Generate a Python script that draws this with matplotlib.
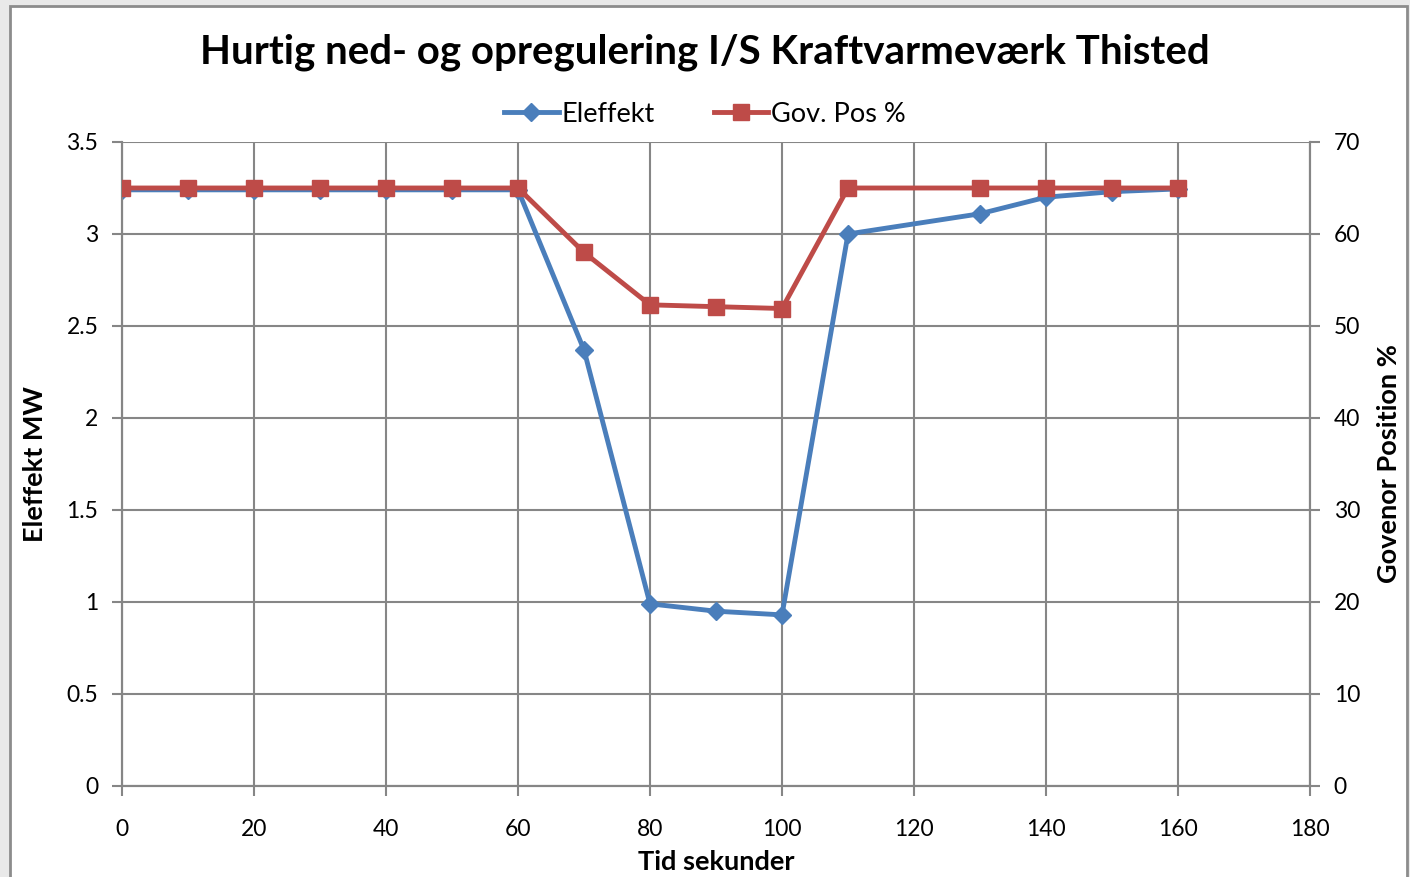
import numpy as np
import matplotlib.pyplot as plt
from matplotlib.patches import Rectangle

# data
tid = [0, 10, 20, 30, 40, 50, 60, 70, 80, 90, 100, 110, 130, 140, 150, 160]
eleffekt = [3.24, 3.24, 3.24, 3.24, 3.24, 3.24, 3.24, 2.37, 0.99, 0.95, 0.93,
            3.00, 3.11, 3.20, 3.23, 3.245]
gov_pos = [65, 65, 65, 65, 65, 65, 65, 58.0, 52.3, 52.1, 51.9,
           65, 65, 65, 65, 65]

blue = '#4a7ebb'
red = '#be4b48'
grid_c = '#868686'

plt.rcParams['font.family'] = ['Lato', 'DejaVu Sans']

fig = plt.figure(figsize=(14.1, 8.77), dpi=100)
fig.patch.set_facecolor('#e9e9e9')
# white chart area with grey border
fig.patches.append(Rectangle((10 / 1410, -0.01), 1397 / 1410, 1 - 6 / 877 + 0.01,
                             transform=fig.transFigure, facecolor='white',
                             edgecolor='#8c8c8c', linewidth=2, zorder=-5))

ax = fig.add_axes([122 / 1410, 1 - 786 / 877, 1188 / 1410, 644 / 877])
ax.set_facecolor('none')
ax2 = ax.twinx()

ax.set_xlim(0, 180)
ax.set_ylim(0, 3.5)
ax2.set_ylim(0, 70)
ax.set_xticks(np.arange(0, 181, 20))
ax.set_yticks(np.arange(0, 3.51, 0.5))
ax.set_yticklabels(['0', '0.5', '1', '1.5', '2', '2.5', '3', '3.5'])
ax2.set_yticks(np.arange(0, 71, 10))

ax.grid(True, color=grid_c, linewidth=1.5)
ax.set_axisbelow(True)
for a in (ax, ax2):
    for s in a.spines.values():
        s.set_color(grid_c)
        s.set_linewidth(1.5)
    a.spines['top'].set_visible(False)
    a.tick_params(colors=grid_c, labelcolor='black', labelsize=16.5,
                  length=7, width=1.5, pad=10)
ax.tick_params(axis='x', pad=17)

l1, = ax.plot(tid, eleffekt, color=blue, linewidth=3.5, marker='D',
              markersize=9, label='Eleffekt', zorder=3)
l2, = ax2.plot(tid, gov_pos, color=red, linewidth=3.5, marker='s',
               markersize=12, label='Gov. Pos %', zorder=3)

ax.set_xlabel('Tid sekunder', fontsize=19.5, fontweight='bold', labelpad=7)
ax.set_ylabel('Eleffekt MW', fontsize=19.5, fontweight='bold', labelpad=14)
ax2.set_ylabel('Govenor Position %', fontsize=19.5, fontweight='bold', labelpad=12)

fig.text(0.5, 1 - 52 / 877, 'Hurtig ned- og opregulering I/S Kraftvarmeværk Thisted',
         ha='center', va='center', fontsize=29, fontweight='bold')

fig.legend([l1, l2], ['Eleffekt', 'Gov. Pos %'], loc='center',
           bbox_to_anchor=(0.5, 1 - 114 / 877), ncol=2, frameon=False,
           fontsize=19.5, handlelength=2.0, handletextpad=0.1, columnspacing=2.2)

fig.savefig('out.png', dpi=100, facecolor=fig.get_facecolor())
